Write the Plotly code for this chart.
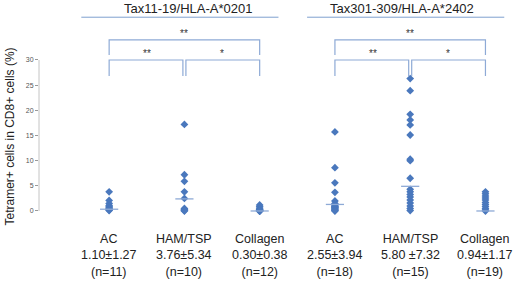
import plotly.graph_objects as go

# ---- data ----
groups = ["AC", "HAM/TSP", "Collagen", "AC", "HAM/TSP", "Collagen"]
stats = ["1.10±1.27", "3.76±5.34", "0.30±0.38", "2.55±3.94", "5.80 ±7.32", "0.94±1.17"]
counts = ["(n=11)", "(n=10)", "(n=12)", "(n=18)", "(n=15)", "(n=19)"]
panel_titles = ["Tax11-19/HLA-A*0201", "Tax301-309/HLA-A*2402"]

ac_0201 = [3.8, 2.1, 1.5, 1.1, 0.9, 0.7, 0.5, 0.4, 0.3, 0.2, 0.1]
ham_0201 = [17.2, 7.2, 5.9, 3.8, 2.5, 0.5, 0.3, 0.2, 0.1, 0.0]
col_0201 = [1.2, 0.9, 0.6, 0.4, 0.3, 0.2, 0.1, 0.1, 0.0, 0.0, 0.0, 0.0]
ac_2402 = [15.7, 8.6, 5.6, 3.7, 2.0, 1.5, 1.3, 1.2, 1.0, 0.9, 0.8, 0.7, 0.6, 0.5, 0.3, 0.2, 0.1, 0.0]
ham_2402 = [26.3, 23.9, 19.2, 18.1, 17.1, 15.1, 10.3, 10.0, 6.5, 4.3, 3.8, 3.3, 2.8, 2.2, 1.6, 1.0, 0.5, 0.1]
col_2402 = [3.8, 3.4, 3.0, 2.6, 2.2, 1.7, 1.3, 0.9, 0.5, 0.2, 0.0]
series = [ac_0201, ham_0201, col_0201, ac_2402, ham_2402, col_2402]
center_lines = [0.35, 2.4, 0.0, 1.3, 4.9, 0.0]

y_ticks = [0, 5, 10, 15, 20, 25, 30]
# comparisons: (from group, to group, level, label)
comparisons = [(0, 2, 1, "**"), (0, 1, 0, "**"), (1, 2, 0, "*"),
               (3, 5, 1, "**"), (3, 4, 0, "**"), (4, 5, 0, "*")]

MARK = "#4a78bd"
LIGHT = "#8eaad6"
FONT = "Liberation Sans"

fig = go.Figure()

for i, vals in enumerate(series):
    fig.add_trace(go.Scatter(
        x=[i] * len(vals), y=vals, mode="markers",
        marker=dict(symbol="diamond", size=6, color=MARK, line=dict(width=0)),
        showlegend=False, cliponaxis=False))

# centre dashes
fig.add_trace(go.Scatter(
    x=list(range(len(groups))), y=center_lines, mode="markers",
    marker=dict(symbol="line-ew", size=13, line=dict(color=LIGHT, width=1.3)),
    hoverinfo="skip", showlegend=False))

shapes = []
annotations = []

# y axis line (only 0..30)
shapes.append(dict(type="line", xref="paper", yref="y", x0=0, x1=0,
                   y0=y_ticks[0], y1=y_ticks[-1], line=dict(color="#c4c4c4", width=1)))

# brackets
for a, b, lvl, lab in comparisons:
    top = 34.0 if lvl == 1 else 30.0
    leg = 31.0 if lvl == 1 else 26.8
    xa = a + (0.02 if (lvl == 0 and a % 3 == 1) else 0)
    xb = b - (0.02 if (lvl == 0 and b % 3 == 1) else 0)
    shapes.append(dict(type="path", xref="x", yref="y",
                       path=f"M {xa} {leg} L {xa} {top} L {xb} {top} L {xb} {leg}",
                       line=dict(color=LIGHT, width=1.2)))
    annotations.append(dict(x=(a + b) / 2, y=top + 1.3, xref="x", yref="y",
                            text=lab, showarrow=False,
                            font=dict(family=FONT, size=10, color="#333")))

# panel titles and underlines
for k, t in enumerate(panel_titles):
    c = 1 + 3 * k
    annotations.append(dict(x=c, y=40.3, xref="x", yref="y", text=t, showarrow=False,
                            xshift=(4 if k == 0 else -8),
                            font=dict(family=FONT, size=13, color="#222")))
    shapes.append(dict(type="line", xref="x", yref="y", x0=c - 1.37, x1=c + 1.25,
                       y0=38.5, y1=38.5, line=dict(color="#7fa0cf", width=1)))

# category labels
for i in range(len(groups)):
    annotations.append(dict(x=i, y=-8.94, xref="x", yref="y",
                            text=f"{groups[i]}<br>{stats[i]}<br>{counts[i]}",
                            showarrow=False, align="center", yanchor="middle",
                            font=dict(family=FONT, size=12.5, color="#222")))

# y title
annotations.append(dict(x=-0.0603, y=1 - 136.5 / 282, xref="paper", yref="paper",
                        textangle=-90, xanchor="center", yanchor="middle",
                        text="Tetramer+ cells in CD8+ cells (%)", showarrow=False,
                        font=dict(family=FONT, size=12, color="#222")))

fig.update_layout(
    width=520, height=282, margin=dict(l=39, r=0, t=0, b=0),
    paper_bgcolor="white", plot_bgcolor="white",
    xaxis=dict(range=[-0.932, 5.459], visible=False),
    yaxis=dict(range=[-14.11, 41.92], showgrid=False, zeroline=False, showline=False,
               tickvals=y_ticks, ticks="outside", ticklen=3, tickcolor="#999",
               tickfont=dict(family=FONT, size=7, color="#555")),
    shapes=shapes, annotations=annotations,
)

fig.write_html("out.html", config={"displayModeBar": False},
               post_script="document.body.style.margin='0';document.body.style.overflow='hidden';")
